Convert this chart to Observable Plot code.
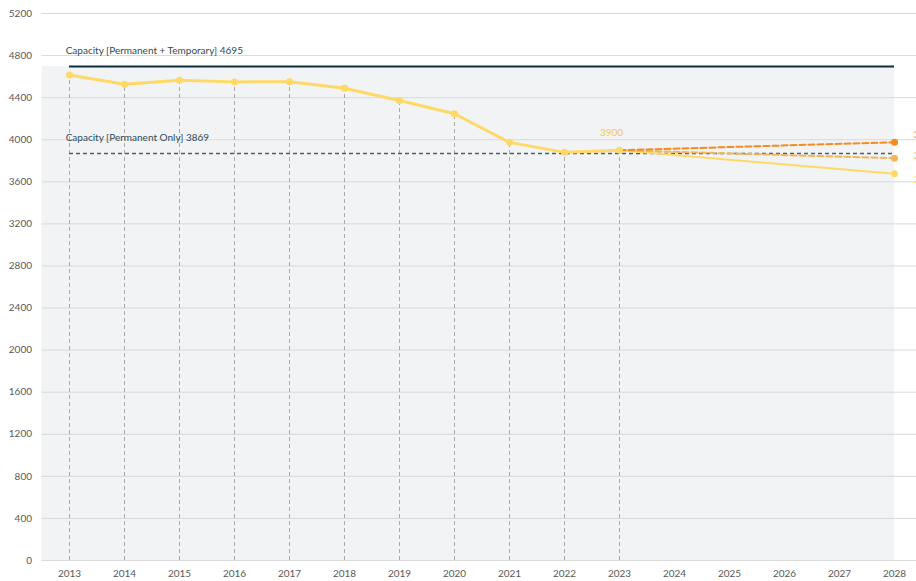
<!DOCTYPE html>
<html>
<head>
<meta charset="utf-8">
<script src="https://cdn.jsdelivr.net/npm/d3@7"></script>
<script src="https://cdn.jsdelivr.net/npm/@observablehq/plot@0.6"></script>
<style>
  html, body { margin: 0; padding: 0; background: #fff; overflow: hidden; }
  #chart svg { display: block; font-family: Lato, "Open Sans", sans-serif; }
</style>
</head>
<body>
<div id="chart"></div>
<script>
// ---- data ----
const years = [2013, 2014, 2015, 2016, 2017, 2018, 2019, 2020, 2021, 2022, 2023];
const actual = [4615, 4528, 4566, 4550, 4552, 4490, 4373, 4247, 3975, 3880, 3900];
const projYears = [2023, 2028];
const projHigh = [3900, 3976];
const projMid = [3900, 3824];
const projLow = [3900, 3676];
const capacityTotal = 4695;
const capacityPerm = 3869;
const capacityTotalLabel = "Capacity [Permanent + Temporary] 4695";
const capacityPermLabel = "Capacity [Permanent Only] 3869";
const yTicks = d3.range(0, 5201, 400);
const xTicks = d3.range(2013, 2029);

// ---- derived tables ----
const actualData = years.map((y, i) => ({year: y, value: actual[i]}));
const toRows = (vals) => projYears.map((y, i) => ({year: y, value: vals[i]}));
const high = toRows(projHigh), mid = toRows(projMid), low = toRows(projLow);

const xMin = 2012.5, xMax = 2028.4;
const greyColor = "#F2F3F5";
const yellow = "#FFD966";
const orange = "#F28C1E";
const lightOrange = "#F3B557";

const endLabel = (row, color, dy) =>
  Plot.text([row], {x: "year", y: "value", text: d => String(d.value), dx: 19, dy, textAnchor: "start", fill: color, fontSize: 10});

const chart = Plot.plot({
  width: 916,
  height: 581,
  marginLeft: 41.5,
  marginRight: 0,
  marginTop: 13,
  marginBottom: 21,
  x: {domain: [xMin, xMax], ticks: xTicks, tickFormat: d => String(d), tickSize: 0, tickPadding: 9, label: null},
  y: {domain: [0, 5200], ticks: yTicks, tickFormat: d => String(d), tickSize: 0, tickPadding: 10, label: null},
  style: {fontSize: "10px", color: "#595959", fontFamily: "Lato, 'Open Sans', sans-serif"},
  marks: [
    Plot.rectY([capacityTotal], {x1: xMin, x2: 2028, y1: 0, y2: d => d, fill: greyColor}),
    Plot.ruleY(yTicks, {x1: xMin, x2: xMax, stroke: "#D9D9D9", strokeWidth: 1}),
    Plot.ruleX(actualData, {x: "year", y1: 0, y2: "value", stroke: "#ABABAB", strokeWidth: 1, strokeDasharray: "4,3"}),
    Plot.ruleY([capacityTotal], {x1: 2013, x2: 2028, stroke: "#0C2F3A", strokeWidth: 2}),
    Plot.ruleY([capacityPerm], {x1: 2013, x2: 2028, stroke: "#46616F", strokeWidth: 1.6, strokeDasharray: "4,3"}),
    Plot.line(low, {x: "year", y: "value", stroke: yellow, strokeWidth: 2}),
    Plot.line(mid, {x: "year", y: "value", stroke: lightOrange, strokeWidth: 2, strokeDasharray: "6,3"}),
    Plot.line(high, {x: "year", y: "value", stroke: orange, strokeWidth: 2, strokeDasharray: "6,3"}),
    Plot.line(actualData, {x: "year", y: "value", stroke: yellow, strokeWidth: 3}),
    Plot.dot(actualData, {x: "year", y: "value", r: 3.5, fill: yellow, stroke: null}),
    Plot.dot([high[1]], {x: "year", y: "value", r: 3.5, fill: orange, stroke: null}),
    Plot.dot([mid[1]], {x: "year", y: "value", r: 3.5, fill: lightOrange, stroke: null}),
    Plot.dot([low[1]], {x: "year", y: "value", r: 3.5, fill: yellow, stroke: null}),
    Plot.text([capacityTotalLabel], {x: 2012.93, y: capacityTotal, text: d => d, dy: -16, textAnchor: "start", fill: "#2F4B5A", fontSize: 10}),
    Plot.text([capacityPermLabel], {x: 2012.93, y: capacityPerm, text: d => d, dy: -16, textAnchor: "start", fill: "#2F4B5A", fontSize: 10}),
    Plot.text([actualData[actualData.length - 1]], {x: "year", y: "value", text: d => String(d.value), dy: -17, dx: -8, fill: "#F4C55E", fontSize: 10}),
    endLabel(high[1], orange, -7),
    endLabel(mid[1], lightOrange, -2),
    endLabel(low[1], "#F7D46A", 6)
  ]
});
document.getElementById("chart").appendChild(chart);
</script>
</body>
</html>
